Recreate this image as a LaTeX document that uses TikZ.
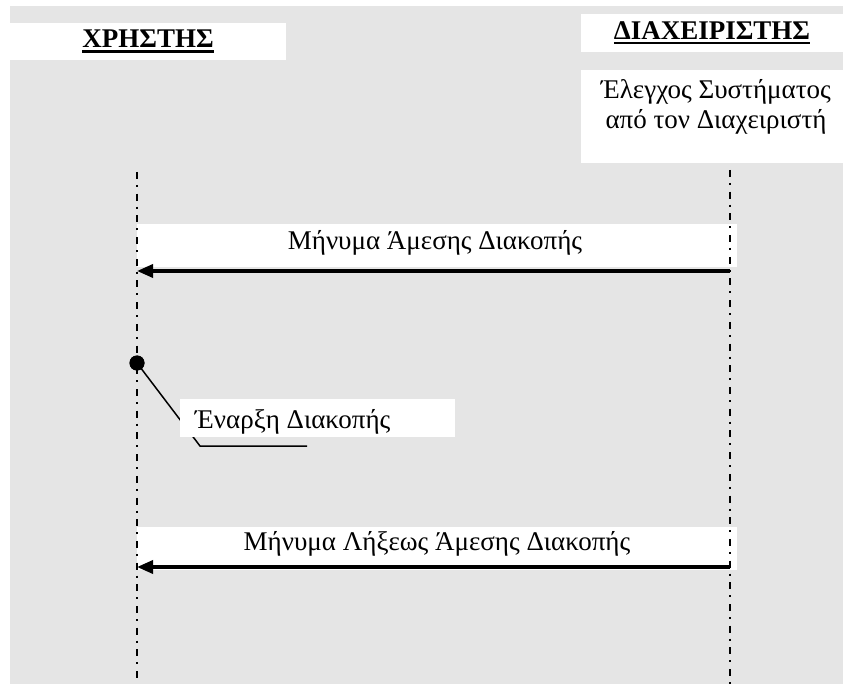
\documentclass[tikz,border=0pt]{standalone}
\usepackage{fontspec}
\setmainfont{Liberation Serif}
\usetikzlibrary{arrows.meta, positioning}

% thick underline for the lane headers
\newcommand{\laneul}[1]{\leavevmode\vtop{\hbox{#1}\kern2.5pt\hrule height 2.5pt}}

\begin{document}
\begin{tikzpicture}[
    x=1pt, y=-1pt,
    font=\fontsize{27}{30}\selectfont,
    >={Triangle[length=16pt, width=13pt]},
    % --- styles ---
    whitebox/.style={draw=none, fill=white, inner sep=0pt},
    lanehead/.style={whitebox, font=\fontsize{27}{30}\selectfont\bfseries},
    msgbox/.style={whitebox, minimum width=600pt, minimum height=43pt},
    lifeline/.style={line width=2pt, dash pattern=on 7pt off 6pt on 2pt off 6.7pt},
    msg_arrow/.style={->, line width=3.5pt},
    leader/.style={line width=1.5pt}
]
\useasboundingbox (0,0) rectangle (843,684);

% ==================== 0. background ====================
\fill[gray!20] (10,6) rectangle (843,684);

% ==================== 1. lane headers ====================
\node[lanehead, minimum width=276pt, minimum height=37pt] (User) at (148,41.5) {\laneul{ΧΡΗΣΤΗΣ}};
\node[lanehead, minimum width=262pt, minimum height=38pt] (Admin) at (712,33) {\laneul{ΔΙΑΧΕΙΡΙΣΤΗΣ}};

% admin check box (text sits at its top)
\node[whitebox, minimum width=262pt, minimum height=93pt, anchor=north] (Check) at (712,70) {};
\node[anchor=north, align=center, yshift=-6pt, xshift=4pt] (CheckText) at (Check.north) {Έλεγχος Συστήματος\\από τον Διαχειριστή};

% ==================== 2. start of interruption ====================
\node[circle, fill=black, inner sep=0pt, minimum size=15pt] (StartDot) at (137,363) {};
\coordinate (LeadBend) at (200,446);
\coordinate (LeadEnd) at (307,446);
\draw[leader] (StartDot.center) -- (LeadBend) -- (LeadEnd);
\node[whitebox, minimum width=275pt, minimum height=38pt, anchor=north west] (StartBox) at (180,399) {};
\node[anchor=base west, inner sep=0pt] (StartText) at (195,428) {Έναρξη Διακοπής};

% ==================== 3. messages ====================
\node[msgbox] (Msg1) at (437,245.5) {};
\node[anchor=base] (Msg1Text) at (435,250) {Μήνυμα Άμεσης Διακοπής};

\node[msgbox] (Msg2) at (437,548.5) {};
\node[anchor=base] (Msg2Text) at (437,550) {Μήνυμα Λήξεως Άμεσης Διακοπής};

% ==================== 4. lifelines ====================
\coordinate (UserTop) at (137,172);
\coordinate (UserBot) at (137,684);
\coordinate (AdminTop) at (730,170);
\coordinate (AdminBot) at (730,684);
\draw[lifeline] (UserTop) -- (UserBot);
\draw[lifeline] (AdminTop) -- (AdminBot);
\node[circle, fill=black, inner sep=0pt, minimum size=15pt] at (StartDot) {};

% ==================== 5. arrows ====================
\coordinate (M1From) at (730,271);
\coordinate (M1To) at (137,271);
\draw[msg_arrow] (M1From) -- (M1To);

\coordinate (M2From) at (730,567);
\coordinate (M2To) at (137,567);
\draw[msg_arrow] (M2From) -- (M2To);

\end{tikzpicture}
\end{document}
